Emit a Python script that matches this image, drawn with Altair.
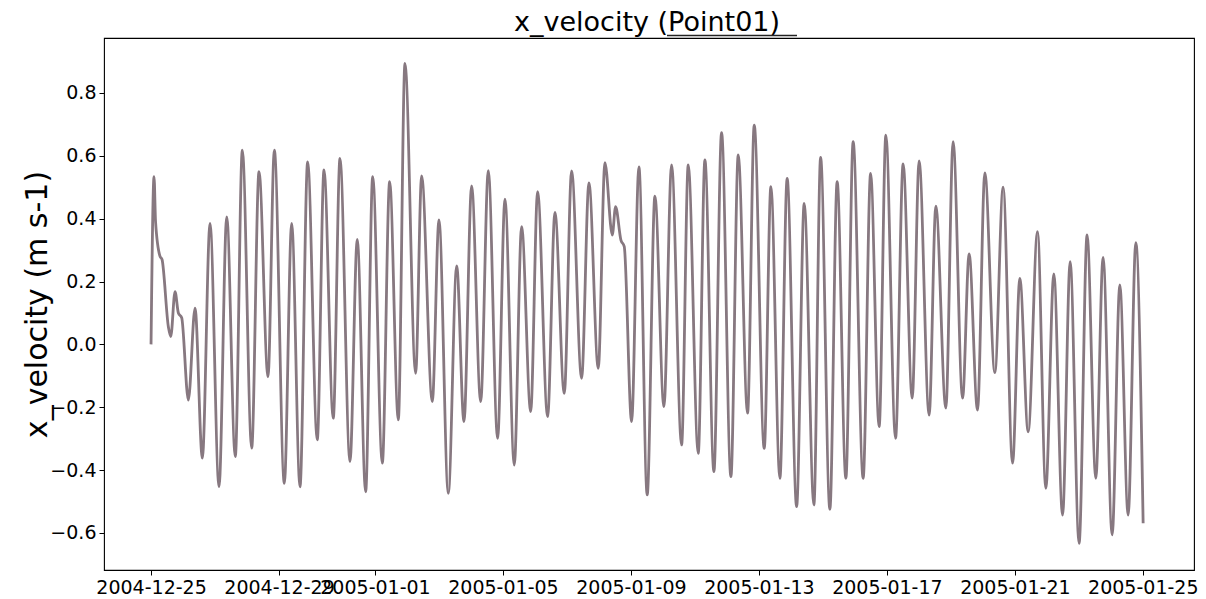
import altair as alt
import pandas as pd

# hours since 2004-12-25 00:00 UTC of the turning points
hours = [0, 2.25, 3.4, 6.75, 8.25, 13.0, 14.8, 18.0, 20.5, 23.0, 28.0, 33.0, 38.5, 44.25,
         51.0, 56.8, 63.2, 68.5, 75.5, 81.0, 87.75, 92.5, 100.0, 105.5, 111.75, 117.5,
         124.7, 129.75, 136.7, 141.75, 149.25, 154.7, 161.0, 166.3, 173.5, 179.0, 185.5,
         190.5, 198.5, 203.0, 211.0, 216.0, 223.0, 229.3, 234.75, 240.5, 247.3, 253.0,
         260.0, 265.5, 272.5, 278.0, 284.8, 290.0, 297.5, 303.0, 310.0, 315.5, 323.0,
         328.5, 335.5, 340.5, 346.0, 348.5, 352.5, 355.0, 360.5, 366.0, 372.2, 378.0,
         384.75, 390.5, 398.0, 403.0, 410.5, 415.5, 422.25, 428.0, 435.0, 440.5, 447.5,
         452.5, 460.0, 465.0, 471.75, 477.2, 484.3, 490.0, 497.25, 502.3, 509.25, 514.7,
         521.25, 526.7, 534.2, 539.8, 546.2, 551.25, 558.5, 564.2, 571.0, 576.2, 583.7,
         588.75, 596.25, 601.7, 608.8, 613.7, 620.0, 625.5, 633.0, 639.2, 646.3, 651.75,
         658.0, 665.0, 671.25, 677.25, 683.8, 689.5, 696.2, 702.2, 708.75, 714.2, 721.0,
         726.75, 733.0, 738.75, 744.25]

x_velocity = [0.0, 0.534, 0.39, 0.28, 0.27, 0.056, 0.025, 0.168, 0.10, 0.085, -0.177, 0.115,
              -0.362, 0.385, -0.453, 0.406, -0.357, 0.618, -0.33, 0.55, -0.103, 0.618,
              -0.442, 0.385, -0.453, 0.581, -0.304, 0.555, -0.235, 0.592, -0.373, 0.334,
              -0.469, 0.534, -0.378, 0.518, -0.24, 0.894, -0.092, 0.536, -0.182, 0.396,
              -0.474, 0.25, -0.246, 0.504, -0.182, 0.553, -0.299, 0.462, -0.384, 0.375,
              -0.214, 0.486, -0.23, 0.42, -0.156, 0.552, -0.108, 0.514, -0.076, 0.578,
              0.348, 0.438, 0.332, 0.311, -0.246, 0.565, -0.479, 0.472, -0.198, 0.571,
              -0.32, 0.571, -0.347, 0.587, -0.405, 0.674, -0.421, 0.603, -0.219, 0.698,
              -0.331, 0.502, -0.426, 0.528, -0.516, 0.449, -0.511, 0.595, -0.525, 0.518,
              -0.426, 0.645, -0.426, 0.544, -0.262, 0.666, -0.299, 0.574, -0.171, 0.584,
              -0.225, 0.44, -0.203, 0.645, -0.171, 0.288, -0.209, 0.546, -0.09, 0.5,
              -0.378, 0.21, -0.278, 0.359, -0.458, 0.224, -0.543, 0.263, -0.633, 0.348,
              -0.426, 0.277, -0.606, 0.189, -0.543, 0.324, -0.569]

x_ticks = ["2004-12-25", "2004-12-29", "2005-01-01", "2005-01-05", "2005-01-09",
           "2005-01-13", "2005-01-17", "2005-01-21", "2005-01-25"]
y_ticks = [-0.6, -0.4, -0.2, 0.0, 0.2, 0.4, 0.6, 0.8]
title_text = "x_velocity (Point01)"

start = pd.Timestamp("2004-12-25T00:00:00")
df = pd.DataFrame({
    "time": [(start + pd.Timedelta(hours=h)).strftime("%Y-%m-%dT%H:%M:%SZ") for h in hours],
    "x_velocity": x_velocity,
})


def dt(s):
    t = pd.Timestamp(s)
    return alt.DateTime(year=t.year, month=t.month, date=t.day, hours=t.hour,
                        minutes=t.minute, utc=True)


x_enc = alt.X(
    "time:T",
    scale=alt.Scale(type="utc", domain=[dt("2004-12-23 12:43"), dt("2005-01-26 14:24")]),
    axis=alt.Axis(
        values=[dt(s) for s in x_ticks],
        labelExpr="utcFormat(datum.value, '%Y-%m-%d')",
        title=None, grid=False, domain=False, labelOverlap=False, labelFlush=False,
        labelFont="DejaVu Sans", labelFontSize=19, labelColor="black",
        tickColor="black", tickSize=5, tickWidth=1, labelPadding=3,
    ),
)
y_enc = alt.Y(
    "x_velocity:Q",
    scale=alt.Scale(domain=[-0.718, 0.975], nice=False, zero=False),
    axis=alt.Axis(
        values=y_ticks, format=".1f", grid=False, domain=False,
        labelFont="DejaVu Sans", labelFontSize=19, labelColor="black",
        tickColor="black", tickSize=5, tickWidth=1, labelPadding=3,
        title="x_velocity (m s-1)", titleFont="DejaVu Sans", titleFontSize=30,
        titleFontWeight="normal", titleColor="black", titleAngle=270,
        titleX=-58, titleY=266, titleAlign="center", titleBaseline="alphabetic",
    ),
)

line = alt.Chart(df).mark_line(
    color="#877880", strokeWidth=2.8, interpolate="monotone"
).encode(x=x_enc, y=y_enc)

deco = pd.DataFrame({"label": [title_text]})

title = alt.Chart(deco).mark_text(
    font="DejaVu Sans", fontSize=27, color="black", align="center",
    baseline="alphabetic"
).encode(text="label:N", x=alt.value(543), y=alt.value(-7))

underline = alt.Chart(deco).mark_rule(
    color="#222222", strokeWidth=1.3
).encode(x=alt.value(563), x2=alt.value(693), y=alt.value(-2.5))

chart = alt.layer(line, title, underline).properties(
    width=1090,
    height=532,
    autosize=alt.AutoSizeParams(type="none"),
    padding={"left": 104, "top": 38, "right": 12, "bottom": 29},
    background="white",
).configure_view(stroke="black", strokeWidth=1.1)

chart.save("out.html", embed_options={"renderer": "svg", "actions": False})
